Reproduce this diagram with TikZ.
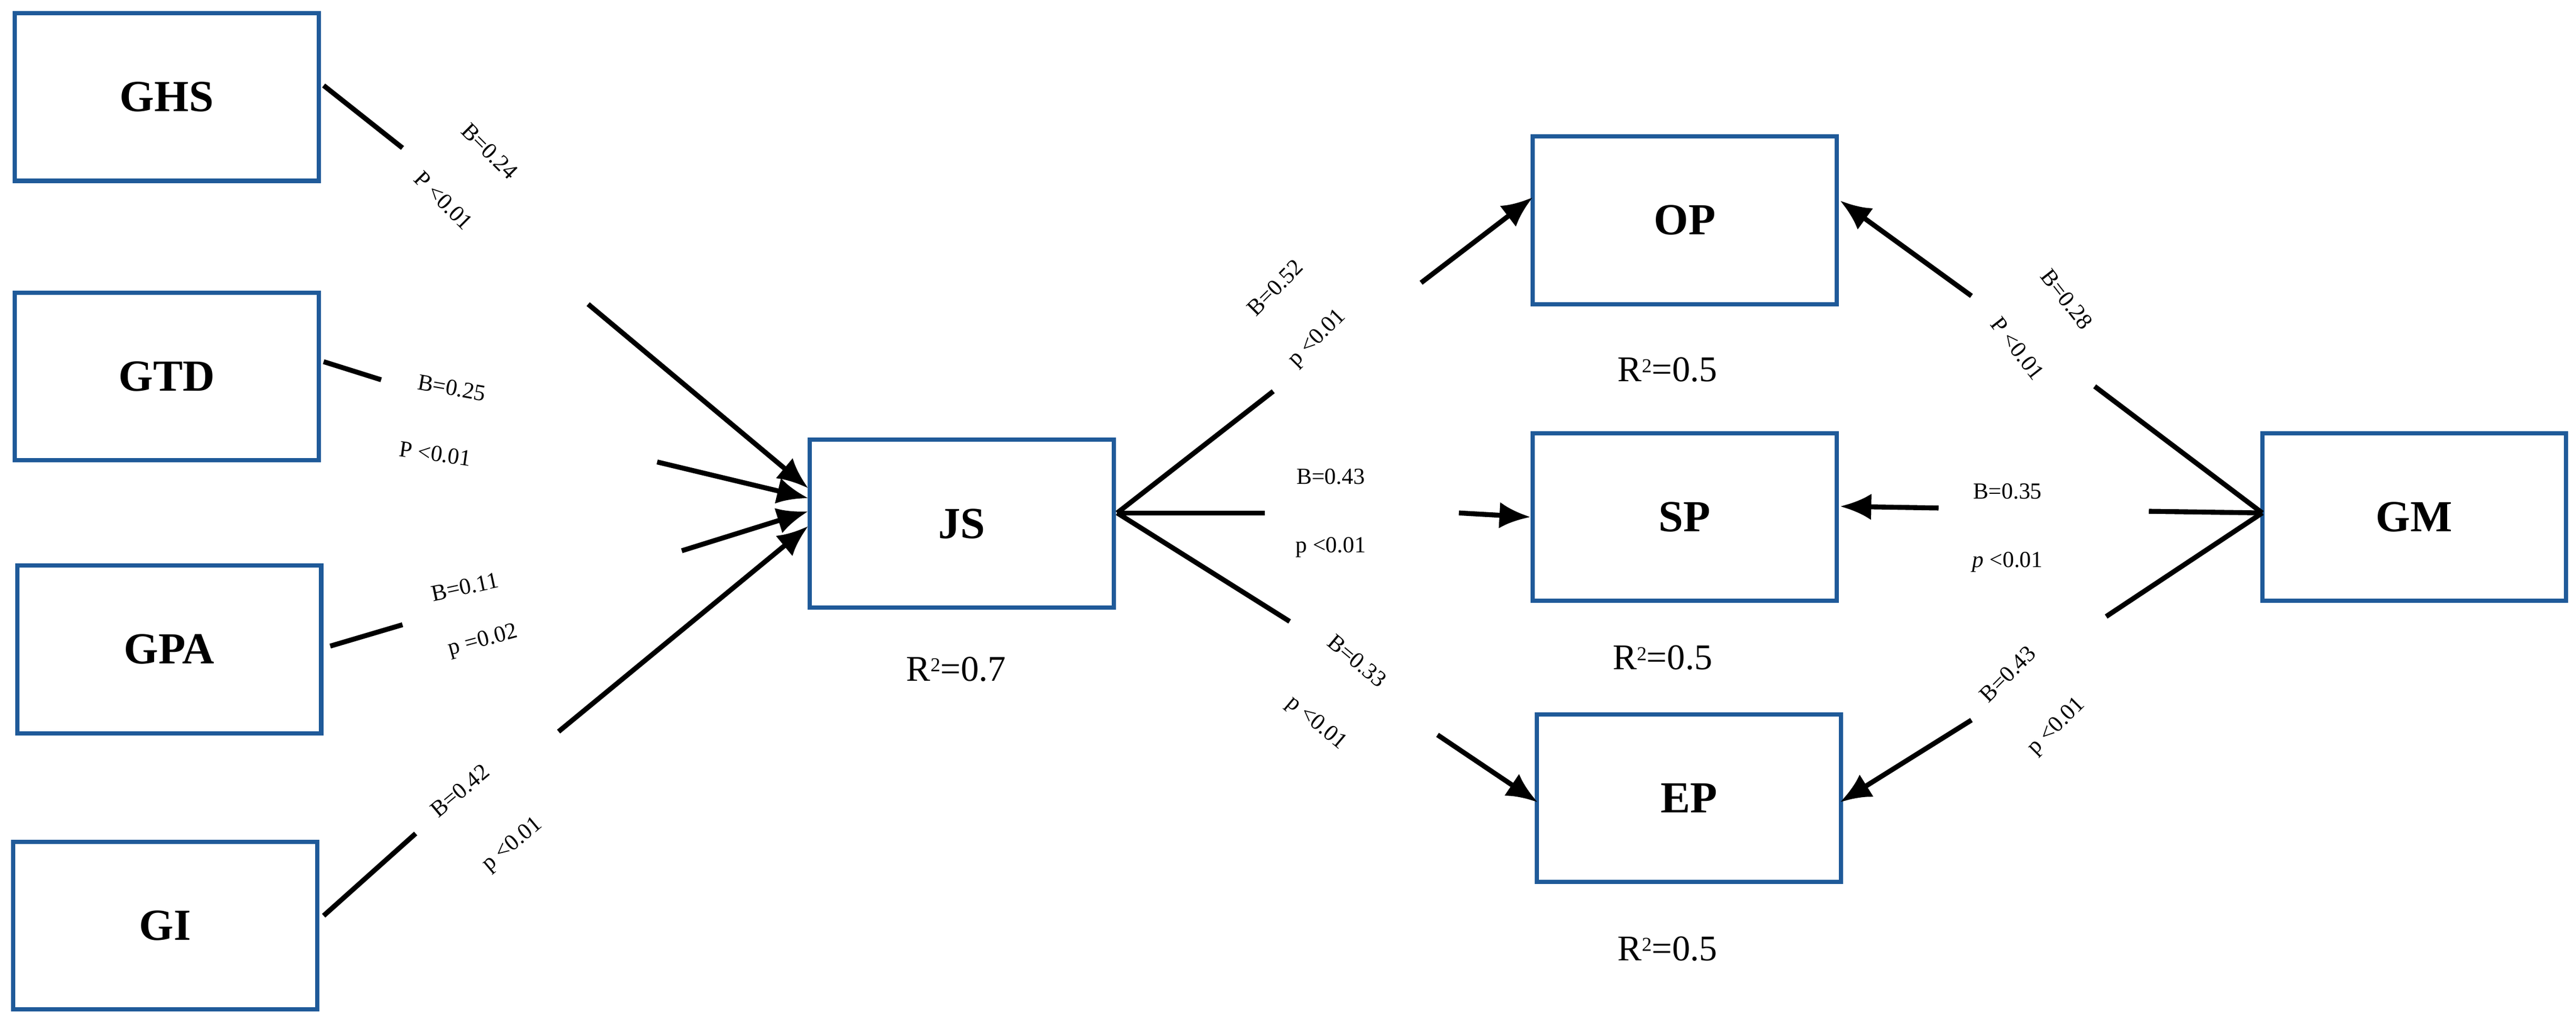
\documentclass[tikz,border=0pt]{standalone}
\usepackage{fontspec}
\setmainfont{Liberation Serif}
\usetikzlibrary{arrows.meta}
\definecolor{bx}{HTML}{1F5A99}
\newcommand{\sqr}{\raisebox{0.55ex}{\fontsize{12}{12}\selectfont 2}}
\begin{document}
\begin{tikzpicture}[x=1pt,y=-1pt,
  box/.style={draw=bx,line width=2.6pt,minimum width=185pt,minimum height=102pt,font=\bfseries\fontsize{27}{30}\selectfont},
  ln/.style={line width=3pt},
  ar/.style={line width=3pt,-{Latex[length=19pt,width=16pt]}},
  lab/.style={font=\fontsize{14}{16}\selectfont,inner sep=0},
  rr/.style={font=\fontsize{22}{24}\selectfont}]
\useasboundingbox (0,0) rectangle (1568,622);
\node[box] (GHS) at (101.5,59) {GHS};
\node[box] (GTD) at (101.5,229) {GTD};
\node[box] (GPA) at (103,395) {GPA};
\node[box] (GI) at (100.5,563) {GI};
\node[box] (JS) at (585.5,318.5) {JS};
\node[box] (OP) at (1025.5,134) {OP};
\node[box] (SP) at (1025.5,314.5) {SP};
\node[box] (EP) at (1028,485.5) {EP};
\node[box] (GM) at (1469.5,314.5) {GM};
\node[rr] (r1) at (582,407) {R\sqr=0.7};
\node[rr] (r2) at (1015,225) {R\sqr=0.5};
\node[rr] (r3) at (1012,400) {R\sqr=0.5};
\node[rr] (r4) at (1015,577) {R\sqr=0.5};
% coordinates
\coordinate (a1) at (245,90); \coordinate (a2) at (358,185); \coordinate (ja) at (492,297);
\coordinate (b1) at (232,231); \coordinate (b2) at (400,281); \coordinate (jb) at (492,303);
\coordinate (c1) at (245,380); \coordinate (c2) at (415,335); \coordinate (jc) at (492,311);
\coordinate (d1) at (253,507); \coordinate (d2) at (340,445); \coordinate (jd) at (492,320);
\coordinate (jo) at (680,312);
\coordinate (e1) at (775,238); \coordinate (e2) at (865,172);
\coordinate (f1) at (770,312); \coordinate (f2) at (888,312);
\coordinate (g1) at (785,378); \coordinate (g2) at (875,447);
\coordinate (gm) at (1377,312);
\coordinate (h1) at (1275,235); \coordinate (h2) at (1200,180);
\coordinate (i1) at (1308,311); \coordinate (i2) at (1180,309);
\coordinate (k1) at (1282,375); \coordinate (k2) at (1200,438);
\draw[ln] (197,52) -- (a1); \draw[ar] (a2) -- (ja);
\draw[ln] (197,220) -- (b1); \draw[ar] (b2) -- (jb);
\draw[ln] (201,393) -- (c1); \draw[ar] (c2) -- (jc);
\draw[ln] (197,557) -- (d1); \draw[ar] (d2) -- (jd);
\draw[ln] (jo) -- (e1); \draw[ar] (e2) -- (933,120);
\draw[ln] (jo) -- (f1); \draw[ar] (f2) -- (SP.west);
\draw[ln] (jo) -- (g1); \draw[ar] (g2) -- (936,488);
\draw[ln] (gm) -- (h1); \draw[ar] (h2) -- (1120,122);
\draw[ln] (gm) -- (i1); \draw[ar] (i2) -- (1120,308);
\draw[ln] (gm) -- (k1); \draw[ar] (k2) -- (1120,488);
% labels
\node[lab,rotate=-45] (l1) at (298,92) {B=0.24};
\node[lab,rotate=-45] (l2) at (270,122) {P <0.01};
\node[lab,rotate=-10] (l3) at (275,236) {B=0.25};
\node[lab,rotate=-8] (l4) at (265,276) {P <0.01};
\node[lab,rotate=12] (l5) at (283,357) {B=0.11};
\node[lab,rotate=15] (l6) at (294,390) {p =0.02};
\node[lab,rotate=40] (l7) at (280,481) {B=0.42};
\node[lab,rotate=40] (l8) at (312,514) {p <0.01};
\node[lab,rotate=45] (l9) at (776,175) {B=0.52};
\node[lab,rotate=45] (l10) at (802,206) {p <0.01};
\node[lab] (l11) at (810,290) {B=0.43};
\node[lab] (l12) at (810,333) {p <0.01};
\node[lab,rotate=-40] (l13) at (826,402) {B=0.33};
\node[lab,rotate=-40] (l14) at (801,440) {p <0.01};
\node[lab,rotate=-52] (l15) at (1258,182) {B=0.28};
\node[lab,rotate=-52] (l16) at (1228,212) {P <0.01};
\node[lab] (l17) at (1222,299) {B=0.35};
\node[lab] (l18) at (1222,342) {\textit{p} <0.01};
\node[lab,rotate=45] (l19) at (1222,410) {B=0.43};
\node[lab,rotate=45] (l20) at (1252,442) {p <0.01};
\end{tikzpicture}
\end{document}
